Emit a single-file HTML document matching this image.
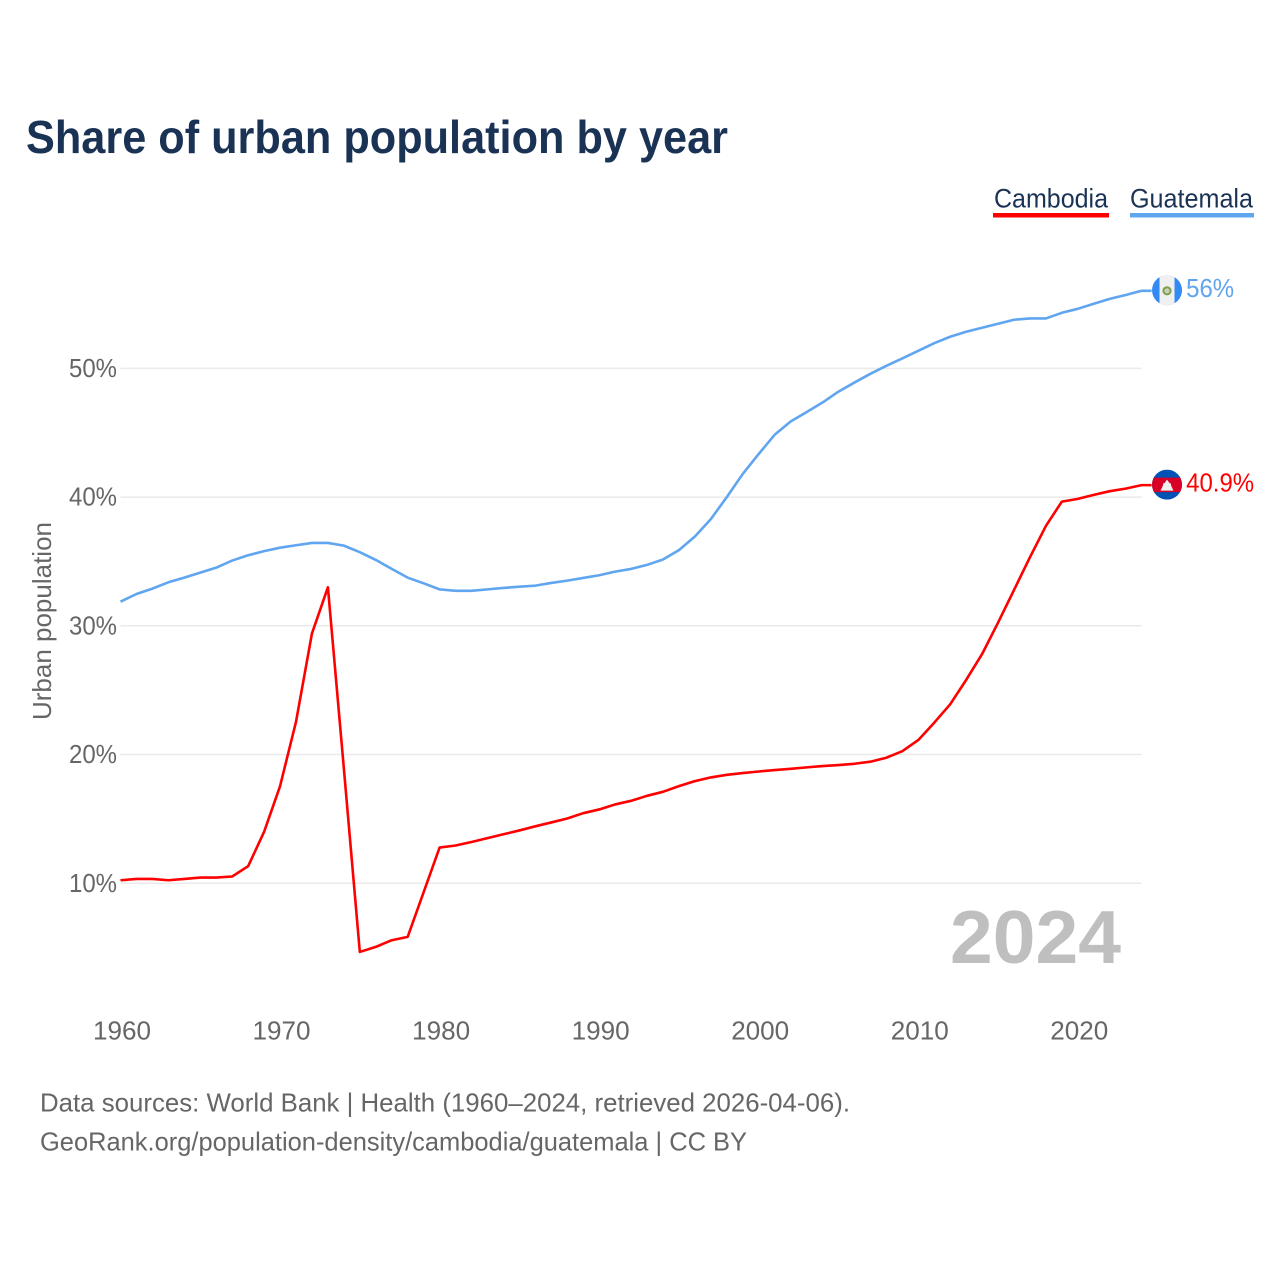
<!DOCTYPE html>
<html lang="en">
<head>
<meta charset="utf-8">
<title>Share of urban population by year</title>
<style>
  html, body { margin: 0; padding: 0; background: #ffffff; }
  body { width: 1280px; height: 1280px; overflow: hidden; }
  svg { display: block; }
  text { font-family: "Liberation Sans", sans-serif; }
</style>
</head>
<body>
<svg id="chart" xmlns="http://www.w3.org/2000/svg" width="1280" height="1280" viewBox="0 0 1280 1280">
  <text x="26" y="153" font-size="46" font-weight="700" fill="#1a3355" textLength="702" lengthAdjust="spacingAndGlyphs">Share of urban population by year</text>

  <g>
    <g>
      <text x="994" y="207.5" font-size="27" fill="#1a3355" textLength="114" lengthAdjust="spacingAndGlyphs">Cambodia</text>
      <rect x="993" y="213" width="116" height="4.5" fill="#ff0000"/>
    </g>
    <g>
      <text x="1130" y="207.5" font-size="27" fill="#1a3355" textLength="123" lengthAdjust="spacingAndGlyphs">Guatemala</text>
      <rect x="1130" y="213" width="124" height="4.5" fill="#60a5ef"/>
    </g>
  </g>

  <g id="grid"></g>
  <g id="yticks"></g>
  <g id="xticks"></g>
  <text transform="translate(51,720) rotate(-90)" font-size="26" fill="#666666" textLength="198" lengthAdjust="spacingAndGlyphs">Urban population</text>

  <text x="950" y="963" font-size="75" font-weight="700" fill="#bfbfbf" textLength="171" lengthAdjust="spacingAndGlyphs">2024</text>

  <g id="series"></g>

  <g id="flag-guatemala">
    <clipPath id="clip-gt"><circle cx="0" cy="0" r="15"/></clipPath>
    <g clip-path="url(#clip-gt)">
      <rect x="-15" y="-15" width="30" height="30" fill="#338af3"/>
      <rect x="-7.5" y="-15" width="15" height="30" fill="#f0f0f0"/>
      <circle cx="0" cy="0.5" r="3.6" fill="#c8cfc0" stroke="#7ea04a" stroke-width="2"/>
    </g>
  </g>
  <g id="flag-cambodia">
    <clipPath id="clip-kh"><circle cx="0" cy="0" r="15"/></clipPath>
    <g clip-path="url(#clip-kh)">
      <rect x="-15" y="-15" width="30" height="30" fill="#0052b4"/>
      <rect x="-15" y="-7" width="30" height="14.5" fill="#d80027"/>
      <polygon points="0,-5 2.5,-1.5 3.5,-1.5 4.5,2 6.5,6 -6.5,6 -4.5,2 -3.5,-1.5 -2.5,-1.5" fill="#f0f0f0"/>
    </g>
  </g>
  <g id="end-labels"></g>

  <text x="40" y="1111.5" font-size="26" fill="#666666" textLength="810" lengthAdjust="spacingAndGlyphs">Data sources: World Bank | Health (1960–2024, retrieved 2026-04-06).</text>
  <text x="40" y="1150.5" font-size="26" fill="#666666" textLength="707" lengthAdjust="spacingAndGlyphs">GeoRank.org/population-density/cambodia/guatemala | CC BY</text>
</svg>

<script>
const startYear = 1960;
const cambodia = [
  10.23, 10.33, 10.33, 10.23, 10.33, 10.44, 10.44, 10.52, 11.32, 13.99,
  17.54, 22.54, 29.41, 32.99, 18.9, 4.66, 5.05, 5.57, 5.83, 9.3,
  12.77, 12.93, 13.2, 13.5, 13.8, 14.1, 14.42, 14.72, 15.03, 15.44,
  15.73, 16.12, 16.4, 16.79, 17.1, 17.54, 17.93, 18.22, 18.42, 18.56,
  18.68, 18.79, 18.89, 19.0, 19.1, 19.18, 19.28, 19.44, 19.75, 20.26,
  21.12, 22.47, 23.9, 25.79, 27.8, 30.24, 32.78, 35.32, 37.76, 39.65,
  39.86, 40.17, 40.46, 40.66, 40.93
];
const guatemala = [
  31.87, 32.47, 32.89, 33.38, 33.74, 34.13, 34.52, 35.07, 35.48, 35.8,
  36.07, 36.26, 36.44, 36.44, 36.23, 35.72, 35.12, 34.42, 33.74, 33.3,
  32.83, 32.72, 32.72, 32.83, 32.94, 33.04, 33.12, 33.33, 33.51, 33.72,
  33.93, 34.21, 34.42, 34.73, 35.15, 35.88, 36.94, 38.29, 40.0, 41.8,
  43.35, 44.84, 45.87, 46.6, 47.35, 48.2, 48.9, 49.58, 50.2, 50.77,
  51.37, 51.96, 52.46, 52.85, 53.16, 53.47, 53.78, 53.88, 53.88, 54.32,
  54.63, 55.02, 55.4, 55.7, 56.03
];
const yTickValues = [10, 20, 30, 40, 50];
const yTickLabels = ["10%", "20%", "30%", "40%", "50%"];
const xTickValues = [1960, 1970, 1980, 1990, 2000, 2010, 2020];
const xTickLabels = ["1960", "1970", "1980", "1990", "2000", "2010", "2020"];
const endLabelCambodia = "40.9%";
const endLabelGuatemala = "56%";

const NS = "http://www.w3.org/2000/svg";
const xScale = (year) => 120.5 + (year - 1960) * 15.955;
const yScale = (v) => 883.2 - (v - 10) * 12.87;
const plotRight = xScale(2024);

function make(tag, parent, props) {
  const el = document.createElementNS(NS, tag);
  for (const k in props) el.setAttribute(k, props[k]);
  parent.appendChild(el);
  return el;
}

const gridG = document.getElementById("grid");
const yG = document.getElementById("yticks");
yTickValues.forEach((v, i) => {
  const line = make("line", gridG, { x1: xScale(1960), x2: plotRight, y1: yScale(v), y2: yScale(v), stroke: "#eaeaea", "stroke-width": 1.5 });
  
  
  const label = make("text", yG, { x: 69, y: yScale(v) + 8.6, "font-size": 26, fill: "#666666", textLength: 48, lengthAdjust: "spacingAndGlyphs" });
  label.textContent = yTickLabels[i];
  
  
});

const xG = document.getElementById("xticks");
xTickValues.forEach((year, i) => {
  const label = make("text", xG, { x: xScale(year) - 27.5, y: 1039.5, "font-size": 26, fill: "#666666", textLength: 58, lengthAdjust: "spacingAndGlyphs" });
  label.textContent = xTickLabels[i];
  
  
});

const seriesG = document.getElementById("series");
function drawSeries(values, color) {
  let d = values.map((v, i) => (i ? "L" : "M") + xScale(startYear + i).toFixed(2) + " " + yScale(v).toFixed(2)).join(" ");
  d += " H" + (plotRight + 10).toFixed(2);
  return make("path", seriesG, { d: d, fill: "none", stroke: color, "stroke-width": 2.6, "stroke-linejoin": "round" });
}
const guatemalaLine = drawSeries(guatemala, "#60a5ef");


const cambodiaLine = drawSeries(cambodia, "#ff0000");



const lastC = yScale(cambodia[cambodia.length - 1]);
const lastG = yScale(guatemala[guatemala.length - 1]);
const flagX = plotRight + 25.4;
document.getElementById("flag-cambodia").setAttribute("transform", "translate(" + flagX + "," + (lastC - 0.5) + ")");
document.getElementById("flag-guatemala").setAttribute("transform", "translate(" + flagX + "," + (lastG - 0.5) + ")");

const endG = document.getElementById("end-labels");
const endC = make("text", endG, { x: plotRight + 44.5, y: lastC + 6.3, "font-size": 26, fill: "#ff0000", textLength: 68, lengthAdjust: "spacingAndGlyphs" });
endC.textContent = endLabelCambodia;


const endGt = make("text", endG, { x: plotRight + 44.5, y: lastG + 6.3, "font-size": 26, fill: "#60a5ef", textLength: 48, lengthAdjust: "spacingAndGlyphs" });
endGt.textContent = endLabelGuatemala;


</script>
</body>
</html>
